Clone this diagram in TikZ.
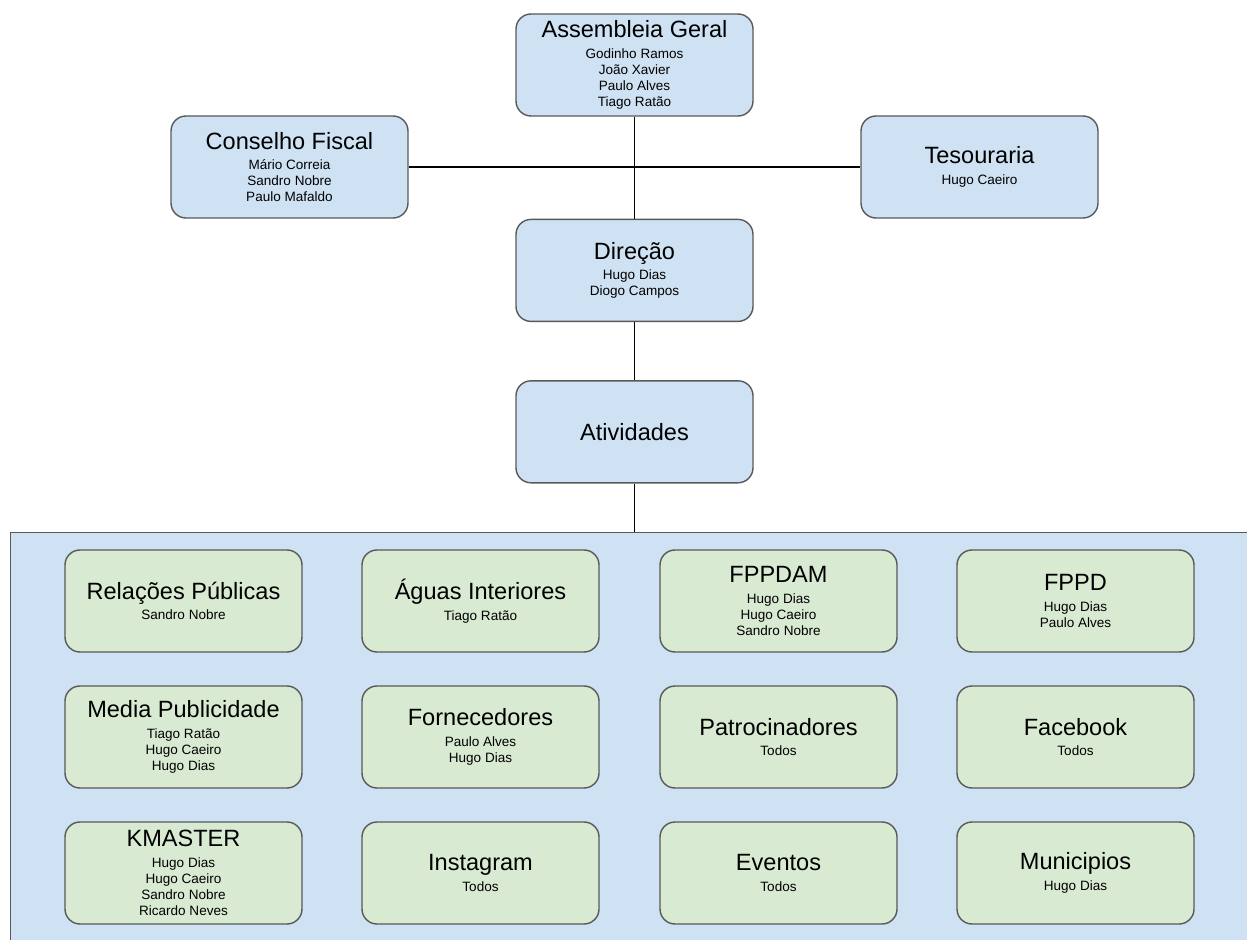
\documentclass[tikz,border=0pt]{standalone}
\usepackage{fontspec}
\setmainfont{Liberation Sans}
\usetikzlibrary{positioning}

\definecolor{unitblue}{HTML}{CFE2F3}
\definecolor{teamgreen}{HTML}{D9EAD3}
\definecolor{boxline}{HTML}{595959}

\newcommand{\titlefont}{\fontsize{13.4}{15.5}\selectfont}
\newcommand{\namefont}{\fontsize{7.7}{9.2}\selectfont}

\begin{document}
\begin{tikzpicture}
      \tikzset{
        box/.style={rectangle,rounded corners=0.3cm,draw=boxline,line width=0.8pt,
                    minimum width=4.74cm,minimum height=2.04cm,inner sep=0pt,
                    align=center,font=\namefont},
        unit/.style={box,fill=unitblue},
        team/.style={box,fill=teamgreen},
        link/.style={draw=black,line width=0.6pt}
      }

      \useasboundingbox (0,0) rectangle (24.94,18.78);

      % top of the chart
      \node[unit] (ag) at (12.69,17.48) {{\titlefont Assembleia Geral}\\[2.5pt]Godinho Ramos\\João Xavier\\Paulo Alves\\Tiago Ratão};
      \node[unit] (cf) at (5.79,15.44) {{\titlefont Conselho Fiscal}\\[2.5pt]Mário Correia\\Sandro Nobre\\Paulo Mafaldo};
      \node[unit] (tes) at (19.59,15.44) {{\titlefont Tesouraria}\\[2.5pt]Hugo Caeiro};
      \node[unit, below=2.04cm of ag] (dir) {{\titlefont Direção}\\[2.5pt]Hugo Dias\\Diogo Campos};
      \node[unit, below=1.16cm of dir] (atv) {{\titlefont Atividades}};

      % activities panel
      \node[rectangle,draw=boxline,line width=0.8pt,fill=unitblue,anchor=north west,
            minimum width=25cm,minimum height=8.4cm] (panel) at (0.2,8.14) {};

      \node[team] (rp) at (3.67,6.76) {{\titlefont Relações Públicas}\\[2.5pt]Sandro Nobre};
      \node[team] (ai) at (9.61,6.76) {{\titlefont Águas Interiores}\\[2.5pt]Tiago Ratão};
      \node[team] (fppdam) at (15.57,6.76) {{\titlefont FPPDAM}\\[2.5pt]Hugo Dias\\Hugo Caeiro\\Sandro Nobre};
      \node[team] (fppd) at (21.51,6.76) {{\titlefont FPPD}\\[2.5pt]Hugo Dias\\Paulo Alves};

      \node[team] (mp) at (3.67,4.04) {{\titlefont Media Publicidade}\\[2.5pt]Tiago Ratão\\Hugo Caeiro\\Hugo Dias};
      \node[team] (forn) at (9.61,4.04) {{\titlefont Fornecedores}\\[2.5pt]Paulo Alves\\Hugo Dias};
      \node[team] (patr) at (15.57,4.04) {{\titlefont Patrocinadores}\\[2.5pt]Todos};
      \node[team] (fb) at (21.51,4.04) {{\titlefont Facebook}\\[2.5pt]Todos};

      \node[team] (km) at (3.67,1.32) {{\titlefont KMASTER}\\[2.5pt]Hugo Dias\\Hugo Caeiro\\Sandro Nobre\\Ricardo Neves};
      \node[team] (ig) at (9.61,1.32) {{\titlefont Instagram}\\[2.5pt]Todos};
      \node[team] (ev) at (15.57,1.32) {{\titlefont Eventos}\\[2.5pt]Todos};
      \node[team] (mun) at (21.51,1.32) {{\titlefont Municipios}\\[2.5pt]Hugo Dias};

      \draw[link] (ag) -- (dir)
                  (cf) -- (tes)
                  (dir) -- (atv)
                  (atv) -- (atv |- panel.north);
\end{tikzpicture}
\end{document}
